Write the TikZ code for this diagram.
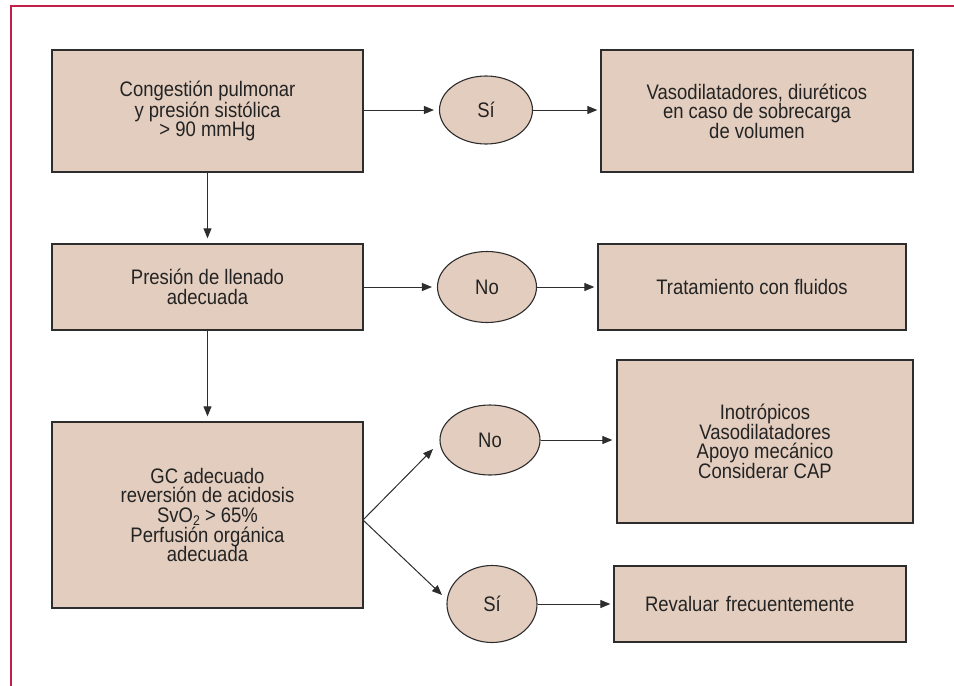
\documentclass[tikz,border=0pt]{standalone}
\usepackage{fontspec}
\setmainfont{Liberation Sans}[FakeStretch=0.88]
\usetikzlibrary{shapes.geometric,arrows.meta}
\definecolor{boxfill}{RGB}{227,205,191}
\definecolor{boxline}{RGB}{45,45,45}
\definecolor{txt}{RGB}{35,35,35}
\definecolor{frame}{RGB}{196,30,75}
\newcommand{\mysubtwo}{\raisebox{-0.12em}{\fontsize{14}{14}\selectfont 2}}
\tikzset{
  stepbox/.style={draw=boxline, line width=1.3pt, fill=boxfill, rectangle, align=center, inner sep=0pt, text=txt,
    font=\fontsize{21}{19.6}\selectfont},
  choice/.style={draw=boxline, line width=1.1pt, fill=boxfill, ellipse, inner sep=0pt, text=txt,
    font=\fontsize{21}{19.6}\selectfont},
  conn/.style={draw=boxline, line width=1pt, -{Triangle[length=10pt,width=8pt]}},
  frameline/.style={draw=frame, line width=1.6pt}
}
\begin{document}
\begin{tikzpicture}[x=1pt,y=-1pt]
\useasboundingbox (0,0) rectangle (954,686);
\draw[frameline] (954,6) -- (11,6) -- (11,686);

\node[stepbox, minimum width=311pt, minimum height=122pt] (b1) at (207.5,111) {Congestión pulmonar\\y presión sistólica\\> 90 mmHg};
\node[stepbox, minimum width=311pt, minimum height=86pt] (b2) at (207.5,287) {Presión de llenado\\adecuada};
\node[stepbox, minimum width=311pt, minimum height=186pt] (b3) at (207.5,515) {GC adecuado\\reversión de acidosis\\SvO\mysubtwo{} > 65\%\\Perfusión orgánica\\adecuada};

\node[choice, minimum width=93pt, minimum height=68pt] (e1) at (486,110) {Sí};
\node[choice, minimum width=99pt, minimum height=71pt] (e2) at (487,287) {No};
\node[choice, minimum width=100pt, minimum height=70pt] (e3) at (490,440) {No};
\node[choice, minimum width=90pt, minimum height=77pt] (e4) at (492,604) {Sí};

\node[stepbox, minimum width=312pt, minimum height=122pt] (r1) at (757,111) {Vasodilatadores, diuréticos\\en caso de sobrecarga\\de volumen};
\node[stepbox, minimum width=308pt, minimum height=86pt] (r2) at (752,287) {Tratamiento con fluidos};
\node[stepbox, minimum width=296pt, minimum height=163pt] (r3) at (765,441.5) {Inotrópicos\\Vasodilatadores\\Apoyo mecánico\\Considerar CAP};
\node[stepbox, minimum height=76pt, text width=230pt, inner xsep=31pt, align=left] (r4) at (760,604) {Revaluar frecuentemente};

\coordinate (split) at (363,520);
\coordinate (t1) at (433,449);
\coordinate (t2) at (442,595);

\draw[conn, shorten >=5pt] (b1) -- (b2);
\draw[conn, shorten >=5pt] (b2) -- (b3);

\draw[conn, shorten >=5pt] (b1.east |- e1.west) -- (e1.west);
\draw[conn, shorten >=3pt] (e1.east) -- (r1.west |- e1.east);
\draw[conn, shorten >=5pt] (b2.east) -- (e2.west);
\draw[conn, shorten >=3pt] (e2.east) -- (r2.west);
\draw[conn] (split) -- (t1);
\draw[conn] (split) -- (t2);
\draw[conn, shorten >=4pt] (e3.east) -- (r3.west |- e3.east);
\draw[conn, shorten >=3pt] (e4.east) -- (r4.west);
\end{tikzpicture}
\end{document}
